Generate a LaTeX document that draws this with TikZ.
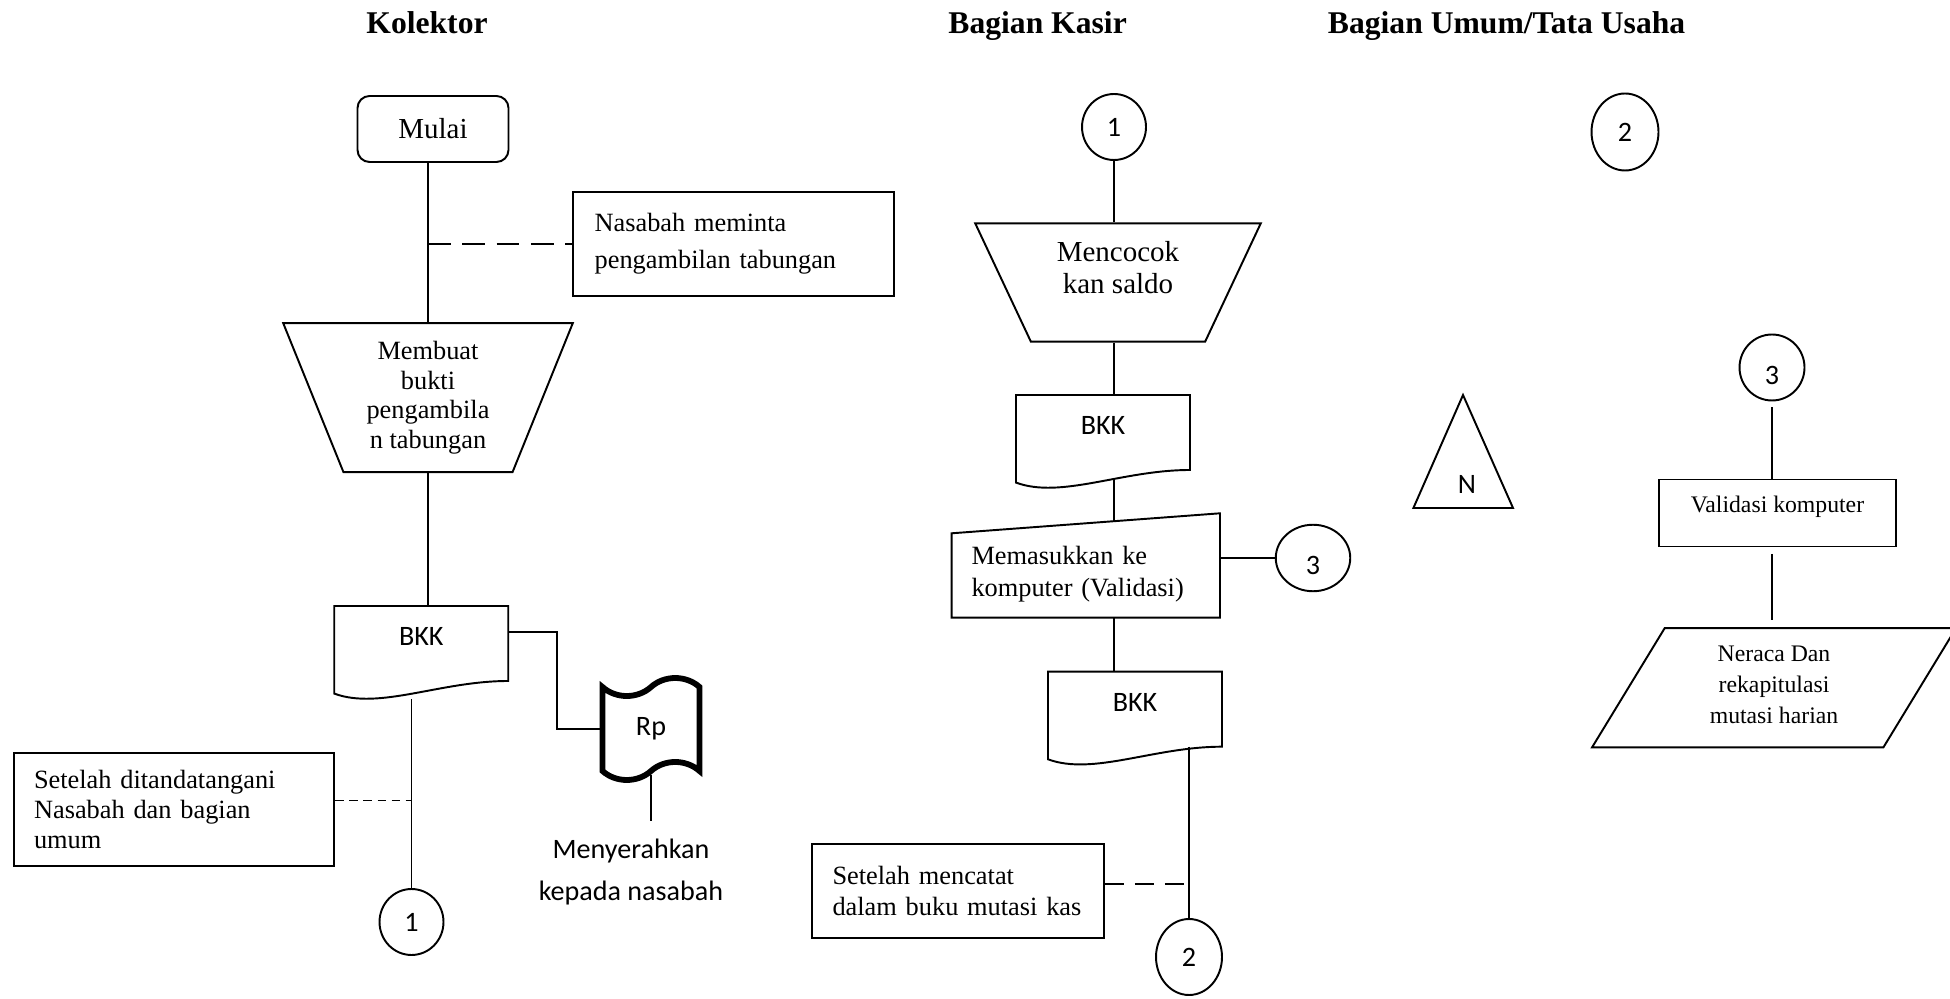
\documentclass[tikz,border=0pt]{standalone}
\usepackage{fontspec}
\setmainfont{Liberation Serif}
\newfontfamily\calibri{Carlito}
\usetikzlibrary{shapes.geometric,shapes.symbols,calc}

\tikzset{
  garis/.style={line width=1.1pt},
  judul/.style={font=\fontsize{18}{21}\selectfont\bfseries, anchor=base},
  kotak/.style={draw, garis, rectangle, align=left, inner ysep=0pt, font=\fontsize{15}{17}\selectfont},
  lingkaran/.style={draw, garis, ellipse, inner sep=0pt, font=\calibri\fontsize{16}{19}\selectfont},
  turun/.style={text height=19pt, text depth=0pt},
  proses/.style={draw, garis, trapezium, shape border rotate=180, trapezium stretches=true, inner sep=0pt, align=center},
  dok/.style={rectangle, minimum width=3.48cm, minimum height=1.5cm, inner sep=0pt, outer sep=0pt, font=\calibri\fontsize{16}{19}\selectfont, text height=10.3pt, text depth=8pt},
  bingkai/.style={rectangle, inner sep=0pt, outer sep=0pt},
  putus/.style={garis, dash pattern=on 13pt off 6.5pt}
}

% dokumen dengan sisi bawah bergelombang
\newcommand{\dokumen}[1]{%
  \draw[garis] ($(#1.south west)+(0,12.6)$) -- (#1.north west) -- (#1.north east) -- (#1.south east)
    .. controls ($(#1.south east)+(-68,0)$) and ($(#1.south west)+(45,29.3)$) .. ($(#1.south west)+(0,12.6)$) -- cycle;}

\begin{document}
\begin{tikzpicture}[x=0.02cm, y=-0.02cm]
\useasboundingbox (0,0) rectangle (1950,999);

% judul kolom
\node[judul] (jkolektor) at (427,33.3) {Kolektor};
\node[judul] (jkasir) at (1037.6,33.3) {Bagian Kasir};
\node[judul] (jumum) at (1506.6,33.3) {Bagian Umum/Tata Usaha};

% kolektor
\node[draw, garis, rounded corners=0.24cm, minimum width=3.02cm, minimum height=1.32cm, font=\fontsize{16.5}{19}\selectfont] (mulai) at (433,129) {Mulai};
\node[kotak, text width=5.556cm, inner xsep=0.432cm, minimum height=2.08cm, font=\fontsize{15}{20.9}\selectfont] (ket1) at (733.5,244) {Nasabah meminta\\pengambilan tabungan};
\node[proses, trapezium angle=68.9, minimum width=5.8cm, minimum height=2.98cm, font=\fontsize{15}{17}\selectfont] (buat) at (428,397.7) {Membuat\\bukti\\pengambila\\n tabungan};
\node[dok] (bkk1) at (421.25,643.5) {BKK};
\dokumen{bkk1}
\node[tape, draw, line width=3.3pt, minimum width=1.94cm, minimum height=2.04cm, tape bend height=0.36cm, font=\calibri\fontsize{16}{19}\selectfont] (uang) at (651,729) {Rp};
\node[font=\calibri\fontsize{16}{23.9}\selectfont, align=center, inner ysep=0.36cm] (serah) at (631,872) {Menyerahkan\\kepada nasabah};
\node[kotak, text width=5.6cm, inner xsep=0.408cm, minimum height=2.26cm] (ket2) at (174,809.5) {Setelah ditandatangani\\Nasabah dan bagian\\umum};
\node[lingkaran, minimum width=1.28cm, minimum height=1.32cm] (s1a) at (411.5,922) {1};

\draw[garis] (mulai.south -| buat.north) -- (buat.north);
\draw[putus] (ket1.west -| buat.north) -- (ket1.west);
\draw[garis] (buat.south) -- (buat.south |- bkk1.north);
\draw[garis] ($(bkk1.north east)+(0,26)$) -- ++(48.5,0) |- (uang.west);
\draw[garis] (uang.south) -- (uang.south |- serah.north);
\draw[garis] ($(s1a.north |- bkk1.south)+(0,18)$) -- (s1a.north);
\draw[garis, dash pattern=on 5pt off 3pt] ($(ket2.east)+(0,-9)$) -- ($(ket2.east -| s1a.north)+(0,-9)$);

% bagian kasir
\node[lingkaran, minimum width=1.28cm, minimum height=1.32cm] (s1b) at (1114,127) {1};
\node[proses, trapezium angle=64.3, minimum width=5.714cm, minimum height=2.368cm, font=\fontsize{16.5}{17.8}\selectfont, text depth=17pt] (cocok) at (1118,282.5) {Mencocok\\kan saldo};
\node[dok] (bkk2) at (1103,432.5) {BKK};
\dokumen{bkk2}
\node[bingkai, minimum width=5.37cm, minimum height=1.688cm, text width=4.57cm, align=left, font=\fontsize{15}{18}\selectfont] (masuk) at (1085.75,574) {Memasukkan ke\\komputer (Validasi)};
\draw[garis] ($(masuk.south west)+(0,1.5)$) -- ($(masuk.north west)+(0,1.5)$) -- ($(masuk.north east)+(0,-18.5)$) -- ($(masuk.south east)+(0,1.5)$) -- cycle;
\node[lingkaran, turun, minimum width=1.49cm, minimum height=1.33cm] (s3a) at (1313,558) {3};
\node[dok] (bkk3) at (1135,709.2) {BKK};
\dokumen{bkk3}
\node[kotak, text width=5.02cm, inner xsep=0.412cm, minimum height=1.88cm, font=\fontsize{15}{18}\selectfont] (ket3) at (958,891) {Setelah mencatat\\dalam buku mutasi kas};
\node[lingkaran, minimum width=1.32cm, minimum height=1.52cm] (s2b) at (1189,957) {2};

\draw[garis] (s1b.south) -- (s1b.south |- cocok.north);
\draw[garis] (cocok.south -| s1b.south) -- (bkk2.north -| s1b.south);
\draw[garis] ($(bkk2.south -| s1b.south)+(0,9)$) -- ($(masuk.north -| s1b.south)+(0,-10)$);
\draw[garis] (masuk.east |- s3a.west) -- (s3a.west);
\draw[garis] ($(masuk.south -| s1b.south)+(0,1.5)$) -- (bkk3.north -| s1b.south);
\draw[garis] (bkk3.south -| s2b.north) -- (s2b.north);
\draw[garis, dash pattern=on 11pt off 6pt] ($(ket3.east)+(0,-7)$) -- ($(ket3.east -| s2b.north)+(0,-7)$);

% bagian umum / tata usaha
\node[lingkaran, minimum width=1.34cm, minimum height=1.54cm] (s2c) at (1625,132) {2};
\node[font=\calibri\fontsize{16}{19}\selectfont, inner sep=0pt] (segitiga) at (1467,484) {N};
\draw[garis] ($(segitiga)+(-4,-89)$) -- ($(segitiga)+(46,24)$) -- ($(segitiga)+(-53.6,24)$) -- cycle;
\node[lingkaran, turun, minimum width=1.3cm, minimum height=1.32cm] (s3c) at (1772,367.5) {3};
\node[draw, garis, minimum width=4.74cm, minimum height=1.34cm, font=\fontsize{13.5}{16}\selectfont, text height=5pt, text depth=5pt] (validasi) at (1777.5,513) {Validasi komputer};
\node[bingkai, minimum width=7.28cm, minimum height=2.384cm, align=center, font=\fontsize{13.5}{17.8}\selectfont] (neraca) at (1774,685) {Neraca Dan\\rekapitulasi\\mutasi harian};
\draw[garis] ($(neraca.south west)+(0,2.8)$) -- ($(neraca.south east)+(-72.6,2.8)$) -- ($(neraca.north east)+(0,2.8)$) -- ($(neraca.north west)+(72.6,2.8)$) -- cycle;

\draw[garis, shorten <=0.12cm] (s3c.south) -- (validasi.north -| s3c.south);
\draw[garis, shorten <=0.13cm, shorten >=0.1cm] (validasi.south -| s3c.south) -- (neraca.north -| s3c.south);
\end{tikzpicture}
\end{document}
